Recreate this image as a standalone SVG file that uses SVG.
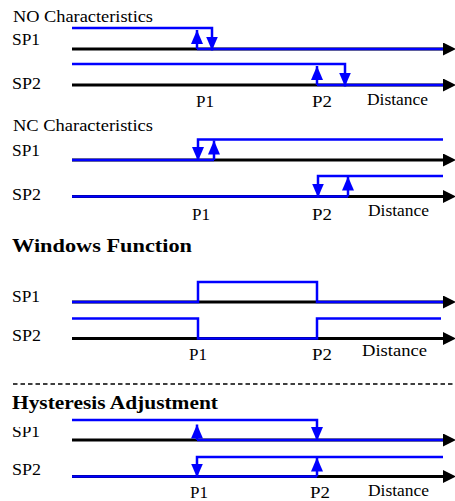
<svg xmlns="http://www.w3.org/2000/svg" width="455" height="501" viewBox="0 0 455 501">
<style>
text{font-size:16px;fill:#000}
.h{font-weight:bold;font-size:19px}
.ax{stroke:#000;stroke-width:3;fill:none;marker-end:url(#ak)}
.b{stroke:#0000ff;stroke-width:2.5;fill:none}
.ba{stroke:#0000ff;stroke-width:2.5;fill:none;marker-end:url(#ab)}
.dash{stroke:#000;stroke-width:1.5;stroke-dasharray:4.5 3;fill:none}
</style>
<defs>
<marker id="ab" markerUnits="userSpaceOnUse" viewBox="0 0 14 12" refX="14" refY="6" markerWidth="14" markerHeight="12" orient="auto"><path d="M0,0 L14,6 L0,12 z" fill="#0000ff"/></marker>
<marker id="ak" markerUnits="userSpaceOnUse" viewBox="0 0 13 13" refX="0" refY="6.5" markerWidth="13" markerHeight="13" orient="auto"><path d="M0,0 L13,6.5 L0,13 z" fill="#000"/></marker>
<clipPath id="clipsp1"><rect x="0" y="427" width="60" height="20"/></clipPath>
</defs>

<g id="no-characteristics">
<text font-family="Liberation Serif" x="13" y="21.5" textLength="140" lengthAdjust="spacingAndGlyphs">NO Characteristics</text>
<text font-family="Liberation Serif" x="12" y="44.5" textLength="28" lengthAdjust="spacingAndGlyphs">SP1</text>
<text font-family="Liberation Serif" x="12" y="89" textLength="29" lengthAdjust="spacingAndGlyphs">SP2</text>
<text font-family="Liberation Serif" x="196" y="107" textLength="18" lengthAdjust="spacingAndGlyphs">P1</text>
<text font-family="Liberation Serif" x="312" y="107" textLength="20" lengthAdjust="spacingAndGlyphs">P2</text>
<text font-family="Liberation Serif" x="367" y="105" textLength="61" lengthAdjust="spacingAndGlyphs">Distance</text>
</g>

<g id="nc-characteristics">
<text font-family="Liberation Serif" x="13" y="130.5" textLength="140" lengthAdjust="spacingAndGlyphs">NC Characteristics</text>
<text font-family="Liberation Serif" x="12" y="155.5" textLength="28" lengthAdjust="spacingAndGlyphs">SP1</text>
<text font-family="Liberation Serif" x="12" y="199.5" textLength="29" lengthAdjust="spacingAndGlyphs">SP2</text>
<text font-family="Liberation Serif" x="192" y="219.5" textLength="18" lengthAdjust="spacingAndGlyphs">P1</text>
<text font-family="Liberation Serif" x="312" y="219.5" textLength="20" lengthAdjust="spacingAndGlyphs">P2</text>
<text font-family="Liberation Serif" x="368" y="216" textLength="61" lengthAdjust="spacingAndGlyphs">Distance</text>
</g>

<g id="windows-function">
<text font-family="Liberation Serif" class="h" x="12" y="252" textLength="180" lengthAdjust="spacingAndGlyphs">Windows Function</text>
<text font-family="Liberation Serif" x="12" y="302" textLength="28" lengthAdjust="spacingAndGlyphs">SP1</text>
<text font-family="Liberation Serif" x="12" y="340.5" textLength="29" lengthAdjust="spacingAndGlyphs">SP2</text>
<text font-family="Liberation Serif" x="189" y="359.5" textLength="18" lengthAdjust="spacingAndGlyphs">P1</text>
<text font-family="Liberation Serif" x="312" y="359.5" textLength="20" lengthAdjust="spacingAndGlyphs">P2</text>
<text font-family="Liberation Serif" x="362" y="356" textLength="65" lengthAdjust="spacingAndGlyphs">Distance</text>
</g>

<g id="hysteresis-adjustment">
<text font-family="Liberation Serif" class="h" x="12" y="409" textLength="206" lengthAdjust="spacingAndGlyphs">Hysteresis Adjustment</text>
<text font-family="Liberation Serif" x="12" y="436.5" textLength="28" lengthAdjust="spacingAndGlyphs" clip-path="url(#clipsp1)">SP1</text>
<text font-family="Liberation Serif" x="12" y="475" textLength="29" lengthAdjust="spacingAndGlyphs">SP2</text>
<text font-family="Liberation Serif" x="190" y="497.5" textLength="18" lengthAdjust="spacingAndGlyphs">P1</text>
<text font-family="Liberation Serif" x="310" y="497.5" textLength="20" lengthAdjust="spacingAndGlyphs">P2</text>
<text font-family="Liberation Serif" x="368" y="496" textLength="61" lengthAdjust="spacingAndGlyphs">Distance</text>
</g>

<g id="connectors">
<line class="ax" x1="72" y1="49" x2="443" y2="49"/>
<path class="b" d="M197,49 H443"/>
<path class="ba" d="M72,28 H212 V50.5"/>
<path class="ba" d="M197,49 V30"/>
<line class="ax" x1="72" y1="85" x2="443" y2="85"/>
<path class="b" d="M317,85 H443"/>
<path class="ba" d="M72,64 H345 V86.5"/>
<path class="ba" d="M317,85 V66"/>
<line class="ax" x1="72" y1="160" x2="443" y2="160"/>
<path class="b" d="M72,160 H214"/>
<path class="ba" d="M443,139.5 H198 V161"/>
<path class="ba" d="M214,160 V140.5"/>
<line class="ax" x1="72" y1="196.5" x2="443" y2="196.5"/>
<path class="b" d="M72,196.5 H348"/>
<path class="ba" d="M443,176 H318 V197.5"/>
<path class="ba" d="M348,196.5 V176.5"/>
<line class="ax" x1="72" y1="302" x2="443" y2="302"/>
<path class="b" d="M72,302 H198 V282 H317 V302 H443"/>
<line class="ax" x1="72" y1="338.5" x2="443" y2="338.5"/>
<path class="b" d="M72,318.5 H198 V338.5 H317 V318.5 H441"/>
<line class="dash" x1="13" y1="384" x2="455" y2="384"/>
<line class="ax" x1="72" y1="440" x2="443" y2="440"/>
<path class="b" d="M197,440 H443"/>
<path class="ba" d="M72,420 H317 V441"/>
<path class="ba" d="M197,440 V424.5"/>
<line class="ax" x1="72" y1="476.5" x2="443" y2="476.5"/>
<path class="b" d="M72,476.5 H317"/>
<path class="ba" d="M443,457 H197 V477.5"/>
<path class="ba" d="M317,476.5 V457.5"/>
</g>
</svg>
